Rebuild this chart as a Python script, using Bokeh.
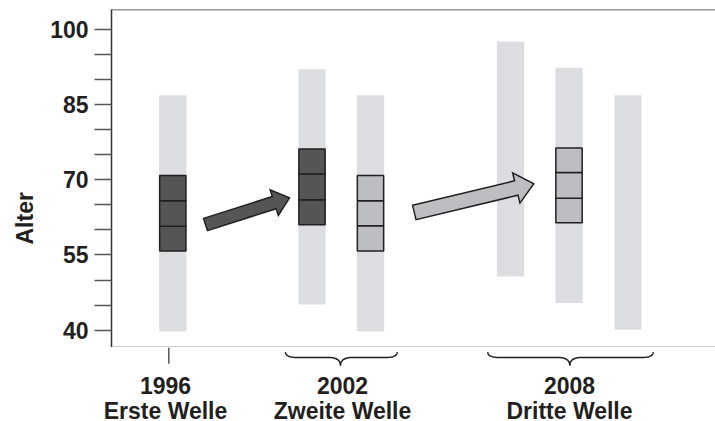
import math
from bokeh.plotting import figure
from bokeh.layouts import column
from bokeh.models import Range1d, FixedTicker, Span, Title
from bokeh.embed import file_html
from bokeh.resources import INLINE

# ---------------- data ----------------
wave_labels = ["1996", "2002", "2008"]
wave_names = ["Erste Welle", "Zweite Welle", "Dritte Welle"]

# six grey range bars (age spans)
range_low = [39.8, 45.1, 39.8, 50.7, 45.4, 40.1]
range_high = [86.8, 92.0, 86.8, 97.5, 92.3, 86.8]

# boxes (three stacked 5-year cells) on bars 0, 1, 2, 4
box_bar = [0, 1, 2, 4]
box_low = [55.8, 61.0, 55.8, 61.4]
box_mid1 = [60.7, 66.0, 60.8, 66.3]
box_mid2 = [65.8, 71.1, 65.8, 71.4]
box_high = [70.8, 76.1, 70.8, 76.3]
box_dark = [True, True, False, False]

y_major = [40, 55, 70, 85, 100]
y_minor = [45, 50, 60, 65, 75, 80, 90, 95]

# ---------------- layout ----------------
bar_x = [61.3, 200.5, 259.0, 399.0, 457.5, 516.5]
bar_w = 27.3
tick_1996 = 57.3
label_x = [54, 231, 458]
brace_spans = [(174.0, 229.0, 285.7), (376.3, 458.3, 541.7)]
arrows = [  # (x tail, y tail, x tip, y tip, half shaft, half head, head len, fill)
    (94.0, 61.06, 178.0, 66.38, 6.4, 13.5, 16.0, "#555555"),
    (302.8, 63.45, 422.3, 69.17, 7.4, 15.5, 18.0, "#bdbec1"),
]

FW, FH = 604, 338
LEFT, TOP = 111, 9
STRIP_H = 47
YMIN, YMAX = 36.55, 103.9
SY = FH / (YMAX - YMIN)   # px per y unit; x is 1 px per unit

INK = "#231f20"
LIGHT = "#dcdde0"
DARK = "#555555"
MIDG = "#bdbec1"
AXC = "#333333"
TICKC = "#555555"
FONT = "Liberation Sans"

p = figure(frame_width=FW, frame_height=FH, min_border_left=LEFT, min_border_right=0,
           min_border_top=TOP, min_border_bottom=0,
           x_range=Range1d(0, FW), y_range=Range1d(YMIN, YMAX),
           output_backend="svg", toolbar_location=None, tools="")
p.outline_line_color = None
p.xgrid.visible = False
p.ygrid.visible = False
p.background_fill_color = "white"
p.border_fill_color = "white"

# grey range bars
p.vbar(x=bar_x, bottom=range_low, top=range_high, width=bar_w,
       fill_color=LIGHT, line_color=None)

# boxes
for i, b in enumerate(box_bar):
    fill = DARK if box_dark[i] else MIDG
    edges = [box_low[i], box_mid1[i], box_mid2[i], box_high[i]]
    p.vbar(x=[bar_x[b]] * 3, bottom=edges[:-1], top=edges[1:], width=bar_w - 1,
           fill_color=fill, line_color=INK, line_width=1.5)

# block arrows
def arrow_poly(x0, y0, x1, y1, hw, hhw, hl):
    X0, Y0, X1, Y1 = x0, y0 * SY, x1, y1 * SY
    L = math.hypot(X1 - X0, Y1 - Y0)
    ux, uy = (X1 - X0) / L, (Y1 - Y0) / L
    nx, ny = -uy, ux
    bx, by = X1 - ux * hl, Y1 - uy * hl
    pts = [(X0 + nx * hw, Y0 + ny * hw), (bx + nx * hw, by + ny * hw),
           (bx + nx * hhw, by + ny * hhw), (X1, Y1),
           (bx - nx * hhw, by - ny * hhw), (bx - nx * hw, by - ny * hw),
           (X0 - nx * hw, Y0 - ny * hw)]
    return [q[0] for q in pts], [q[1] / SY for q in pts]

for (x0, y0, x1, y1, hw, hhw, hl, fc) in arrows:
    xs, ys = arrow_poly(x0, y0, x1, y1, hw, hhw, hl)
    p.patch(xs, ys, fill_color=fc, line_color=INK, line_width=1.5, line_join="miter")

# y axis
yax = p.yaxis[0]
yax.ticker = FixedTicker(ticks=y_major, minor_ticks=y_minor)
yax.axis_line_color = AXC
yax.axis_line_width = 1.5
yax.major_tick_out = 17
yax.major_tick_in = 0
yax.minor_tick_out = 17
yax.minor_tick_in = 0
yax.major_tick_line_color = TICKC
yax.minor_tick_line_color = TICKC
yax.major_tick_line_width = 1.5
yax.minor_tick_line_width = 1.5
yax.major_label_standoff = 6
yax.major_label_text_font = FONT
yax.major_label_text_font_style = "bold"
yax.major_label_text_font_size = "23px"
yax.major_label_text_color = INK

# x axis line only (tick and labels drawn in the strip below)
xax = p.xaxis[0]
xax.ticker = FixedTicker(ticks=[], minor_ticks=[])
xax.axis_line_color = AXC
xax.axis_line_width = 1.5
xax.major_tick_out = 0
xax.major_tick_in = 0
xax.minor_tick_out = 0
xax.minor_tick_in = 0
xax.major_label_standoff = 0
xax.major_label_text_font_size = "0px"

p.add_layout(Span(location=YMAX, dimension="width", line_color=AXC, line_width=1.5))

p.add_layout(Title(text="Alter", align="left", offset=103, standoff=19,
                   text_font=FONT, text_font_style="bold", text_font_size="23px",
                   text_color=INK), "left")

# ---------------- strip below: 1996 tick, braces, year labels; wave names on its axis ----------------
q = figure(frame_width=FW, frame_height=STRIP_H, min_border_left=LEFT, min_border_right=0,
           min_border_top=0, min_border_bottom=0,
           x_range=Range1d(0, FW), y_range=Range1d(STRIP_H, 0),
           y_axis_type=None,
           output_backend="svg", toolbar_location=None, tools="")
q.outline_line_color = None
q.xgrid.visible = False
q.ygrid.visible = False
q.background_fill_color = "white"
q.border_fill_color = "white"

qa = q.xaxis[0]
qa.ticker = FixedTicker(ticks=label_x, minor_ticks=[])
qa.major_label_overrides = {k: v for k, v in zip(label_x, wave_names)}
qa.axis_line_color = None
qa.major_tick_line_color = None
qa.minor_tick_line_color = None
qa.major_tick_out = 0
qa.major_tick_in = 0
qa.minor_tick_out = 0
qa.minor_tick_in = 0
qa.major_label_standoff = 3
qa.major_label_text_font = FONT
qa.major_label_text_font_style = "bold"
qa.major_label_text_font_size = "23px"
qa.major_label_text_color = INK

q.segment(x0=[tick_1996], y0=[0], x1=[tick_1996], y1=[16.3], line_color=TICKC, line_width=1.5)

def quad(p0, c, p1, n=10):
    out = []
    for k in range(n + 1):
        t = k / n
        out.append(((1 - t) ** 2 * p0[0] + 2 * (1 - t) * t * c[0] + t * t * p1[0],
                    (1 - t) ** 2 * p0[1] + 2 * (1 - t) * t * c[1] + t * t * p1[1]))
    return out

top, flat, tip, r = 4.7, 10.0, 18.0, 12.0
for (x0, xc, x1) in brace_spans:
    left = quad((x0, top), (x0, flat), (x0 + r, flat)) + quad((xc - r, flat), (xc, flat), (xc, tip))
    right = quad((xc, tip), (xc, flat), (xc + r, flat)) + quad((x1 - r, flat), (x1, flat), (x1, top))
    q.line([pt[0] for pt in left], [pt[1] for pt in left], line_color=INK, line_width=1.5)
    q.line([pt[0] for pt in right], [pt[1] for pt in right], line_color=INK, line_width=1.5)

q.text(x=label_x, y=[38.0] * 3, text=wave_labels, text_align="center", text_baseline="alphabetic",
       text_font={"value": FONT}, text_font_style="bold", text_font_size="23px", text_color=INK)

layout = column(p, q, spacing=0)
open("out.html", "w").write(file_html(layout, INLINE))
